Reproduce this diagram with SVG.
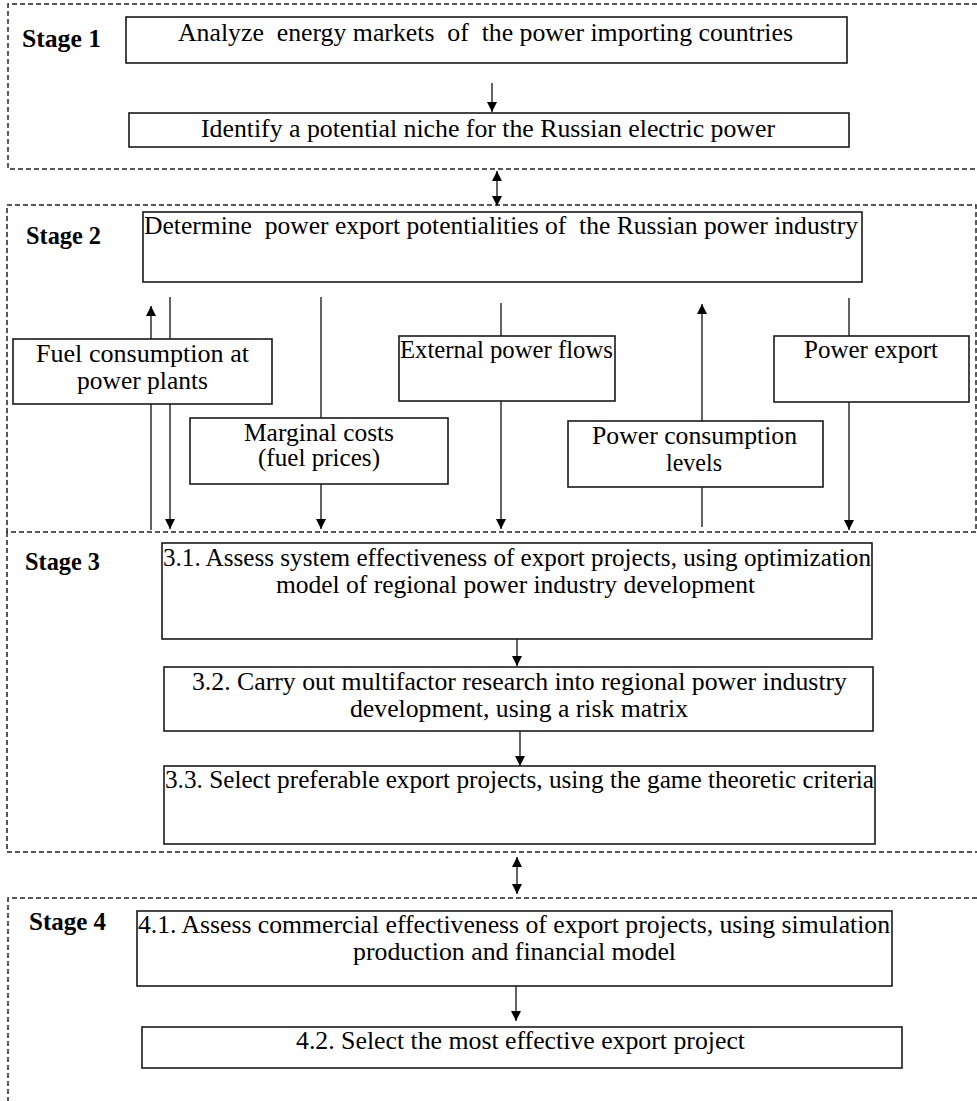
<svg xmlns="http://www.w3.org/2000/svg" width="977" height="1101" viewBox="0 0 977 1101">
<style>
.stage{fill:none;stroke:#222;stroke-width:1.5;stroke-dasharray:5 3}
.box{fill:#fff;stroke:#1a1a1a;stroke-width:1.6}
.t{font-family:"Liberation Serif","Times New Roman",serif;font-size:25px;fill:#000;white-space:pre}
.lbl{font-family:"Liberation Serif","Times New Roman",serif;font-size:25px;font-weight:bold;fill:#000}
.c{fill:none;stroke:#222;stroke-width:1.4}
</style>
<defs>
<marker id="ah" markerUnits="userSpaceOnUse" markerWidth="10" markerHeight="11" refX="10" refY="5" orient="auto-start-reverse" viewBox="0 0 10 10">
<path d="M0,0 L10,5 L0,10 z" fill="#000"/>
</marker>
</defs>
<rect width="977" height="1101" fill="#fff"/>
<g id="stages">
<path class="stage" d="M977,4 H8 V169 H977"/>
<rect class="stage" x="7" y="205" width="969" height="327"/>
<path class="stage" d="M7,532 V852 H977"/>
<path class="stage" d="M977,898 H8 V1101"/>
<text class="lbl" x="22" y="47" textLength="79" lengthAdjust="spacingAndGlyphs">Stage 1</text>
<text class="lbl" x="26" y="244" textLength="75" lengthAdjust="spacingAndGlyphs">Stage 2</text>
<text class="lbl" x="25" y="570" textLength="75" lengthAdjust="spacingAndGlyphs">Stage 3</text>
<text class="lbl" x="29" y="930" textLength="77" lengthAdjust="spacingAndGlyphs">Stage 4</text>
</g>
<g id="connectors">
<line class="c" x1="492" y1="83" x2="492" y2="112" marker-end="url(#ah)"/>
<line class="c" x1="497" y1="171" x2="497" y2="206" marker-start="url(#ah)" marker-end="url(#ah)"/>
<line class="c" x1="151" y1="530" x2="151" y2="306" marker-end="url(#ah)"/>
<line class="c" x1="170" y1="297" x2="170" y2="529" marker-end="url(#ah)"/>
<line class="c" x1="321" y1="297" x2="321" y2="529" marker-end="url(#ah)"/>
<line class="c" x1="501" y1="303" x2="501" y2="529" marker-end="url(#ah)"/>
<line class="c" x1="702" y1="527" x2="702" y2="304" marker-end="url(#ah)"/>
<line class="c" x1="849" y1="298" x2="849" y2="530" marker-end="url(#ah)"/>
<line class="c" x1="517" y1="639" x2="517" y2="666" marker-end="url(#ah)"/>
<line class="c" x1="520" y1="731" x2="520" y2="766" marker-end="url(#ah)"/>
<line class="c" x1="517" y1="857" x2="517" y2="894" marker-start="url(#ah)" marker-end="url(#ah)"/>
<line class="c" x1="516" y1="986" x2="516" y2="1021" marker-end="url(#ah)"/>
</g>
<g id="n1">
<rect class="box" x="126" y="17" width="721" height="46"/>
<text class="t" x="178" y="41" textLength="615" lengthAdjust="spacingAndGlyphs">Analyze  energy markets  of  the power importing countries</text>
</g>
<g id="n2">
<rect class="box" x="129" y="113" width="720" height="34"/>
<text class="t" x="201" y="137" textLength="574" lengthAdjust="spacingAndGlyphs">Identify a potential niche for the Russian electric power</text>
</g>
<g id="n3">
<rect class="box" x="143" y="212" width="719" height="70"/>
<text class="t" x="144" y="234" textLength="714" lengthAdjust="spacingAndGlyphs">Determine  power export potentialities of  the Russian power industry</text>
</g>
<g id="n4">
<rect class="box" x="13" y="339" width="259" height="65"/>
<text class="t" x="36" y="362" textLength="213" lengthAdjust="spacingAndGlyphs">Fuel consumption at</text>
<text class="t" x="77" y="389" textLength="131" lengthAdjust="spacingAndGlyphs">power plants</text>
</g>
<g id="n5">
<rect class="box" x="190" y="418" width="258" height="66"/>
<text class="t" x="244" y="441" textLength="150" lengthAdjust="spacingAndGlyphs">Marginal costs</text>
<text class="t" x="258" y="466" textLength="122" lengthAdjust="spacingAndGlyphs">(fuel prices)</text>
</g>
<g id="n6">
<rect class="box" x="399" y="336" width="216" height="65"/>
<text class="t" x="400" y="358" textLength="213" lengthAdjust="spacingAndGlyphs">External power flows</text>
</g>
<g id="n7">
<rect class="box" x="568" y="421" width="255" height="66"/>
<text class="t" x="592" y="444" textLength="205" lengthAdjust="spacingAndGlyphs">Power consumption</text>
<text class="t" x="666" y="471" textLength="56" lengthAdjust="spacingAndGlyphs">levels</text>
</g>
<g id="n8">
<rect class="box" x="774" y="336" width="195" height="66"/>
<text class="t" x="804" y="358" textLength="134" lengthAdjust="spacingAndGlyphs">Power export</text>
</g>
<g id="n9">
<rect class="box" x="162" y="543" width="710" height="96"/>
<text class="t" x="163" y="566" textLength="708" lengthAdjust="spacingAndGlyphs">3.1. Assess system effectiveness of export projects, using optimization</text>
<text class="t" x="276" y="593" textLength="479" lengthAdjust="spacingAndGlyphs">model of regional power industry development</text>
</g>
<g id="n10">
<rect class="box" x="164" y="667" width="709" height="64"/>
<text class="t" x="192" y="690" textLength="655" lengthAdjust="spacingAndGlyphs">3.2. Carry out multifactor research into regional power industry</text>
<text class="t" x="350" y="717" textLength="338" lengthAdjust="spacingAndGlyphs">development, using a risk matrix</text>
</g>
<g id="n11">
<rect class="box" x="164" y="766" width="711" height="78"/>
<text class="t" x="165" y="788" textLength="709" lengthAdjust="spacingAndGlyphs">3.3. Select preferable export projects, using the game theoretic criteria</text>
</g>
<g id="n12">
<rect class="box" x="137" y="911" width="755" height="75"/>
<text class="t" x="138" y="933" textLength="752" lengthAdjust="spacingAndGlyphs">4.1. Assess commercial effectiveness of export projects, using simulation</text>
<text class="t" x="353" y="960" textLength="323" lengthAdjust="spacingAndGlyphs">production and financial model</text>
</g>
<g id="n13">
<rect class="box" x="142" y="1027" width="760" height="41"/>
<text class="t" x="296" y="1049" textLength="449" lengthAdjust="spacingAndGlyphs">4.2. Select the most effective export project</text>
</g>
</svg>
